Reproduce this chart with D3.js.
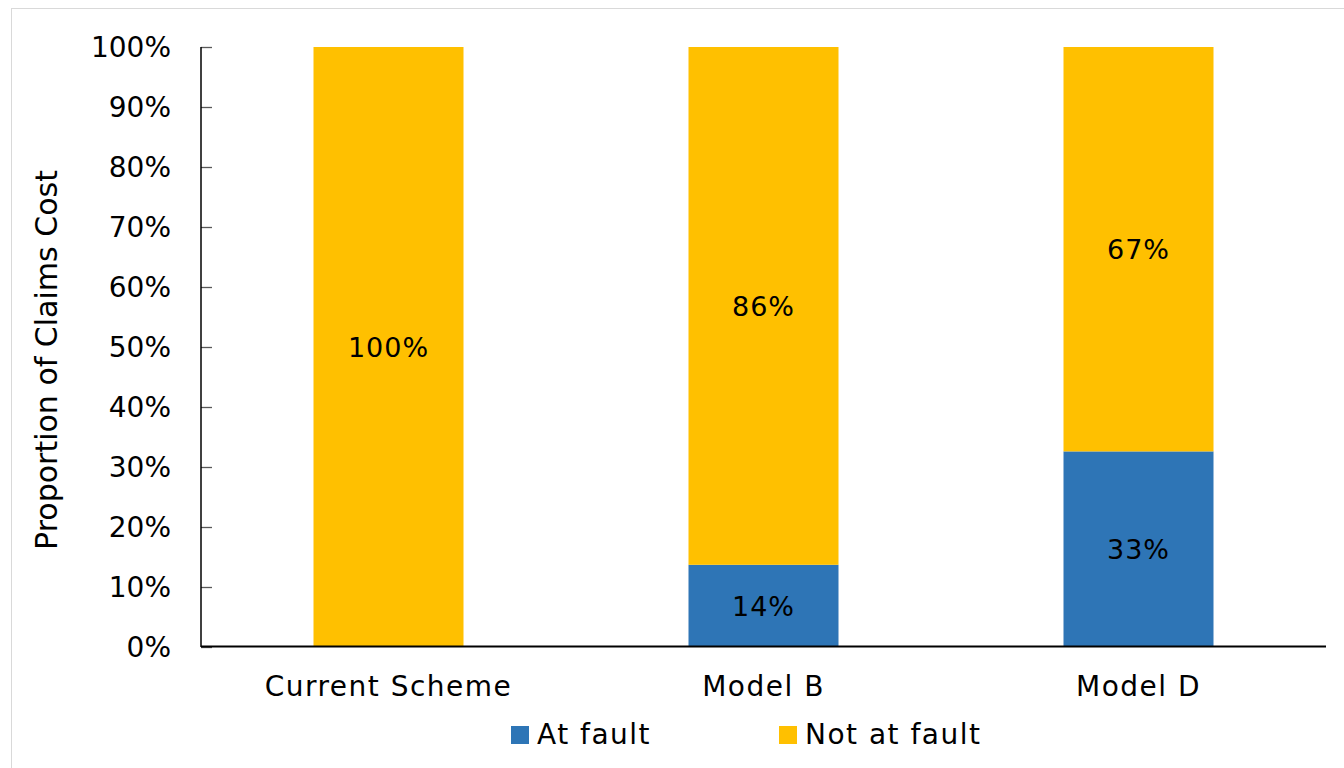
<!DOCTYPE html>
<html>
<head>
<meta charset="utf-8">
<script src="https://cdn.jsdelivr.net/npm/d3@7"></script>
<style>
  html, body { margin: 0; padding: 0; background: #fff; }
  svg { display: block; font-family: "DejaVu Sans", sans-serif; }
</style>
</head>
<body>
<div class="displayArea"></div>
<script>
// data
const categories = ["Current Scheme", "Model B", "Model D"];
const atFault = [0, 0.137, 0.326];
const notAtFault = [1, 0.863, 0.674];
const seriesNames = ["At fault", "Not at fault"];
const seriesColours = ["#2E75B6", "#FFC000"];
const yTicks = [0, 0.1, 0.2, 0.3, 0.4, 0.5, 0.6, 0.7, 0.8, 0.9, 1];

const width = 1344, height = 768;
const plotLeft = 201, plotRight = 1326, plotTop = 47, plotBottom = 647;

const svg = d3.select(".displayArea")
    .append("svg")
    .attr("width", width)
    .attr("height", height);

// chart frame
svg.append("rect")
    .attr("x", 11.5).attr("y", 8.5)
    .attr("width", 1400).attr("height", 800)
    .attr("fill", "#fff")
    .attr("stroke", "#d9d9d9")
    .attr("stroke-width", 1);

const table = categories.map((c, i) => ({cat: c, "At fault": atFault[i], "Not at fault": notAtFault[i]}));
const stacked = d3.stack().keys(seriesNames)(table);

const xScale = d3.scaleBand()
    .domain(categories)
    .range([plotLeft, plotRight])
    .paddingInner(0.6)
    .paddingOuter(0.3);

const yScale = d3.scaleLinear()
    .domain([0, 1])
    .range([plotBottom, plotTop]);

// bars
const layers = svg.selectAll("g.layer")
    .data(stacked)
    .enter()
    .append("g")
    .attr("class", "layer")
    .attr("fill", (d, i) => seriesColours[i]);

layers.selectAll("rect")
    .data(d => d)
    .enter()
    .append("rect")
    .attr("x", d => xScale(d.data.cat))
    .attr("width", xScale.bandwidth())
    .attr("y", d => yScale(d[1]))
    .attr("height", d => yScale(d[0]) - yScale(d[1]));

// data labels
layers.selectAll("text")
    .data(d => d.filter(v => v[1] - v[0] > 0))
    .enter()
    .append("text")
    .attr("x", d => xScale(d.data.cat) + xScale.bandwidth() / 2)
    .attr("y", d => yScale((d[0] + d[1]) / 2))
    .attr("dy", "0.36em")
    .attr("text-anchor", "middle")
    .attr("fill", "#000")
    .style("font-size", "27px")
    .style("letter-spacing", "1px")
    .text(d => d3.format(".0%")(d[1] - d[0]));

// y axis
const yAxis = svg.append("g")
    .attr("transform", `translate(${plotLeft},0)`)
    .call(d3.axisRight(yScale).tickValues(yTicks).tickSize(11).tickFormat(""));
yAxis.select(".domain").remove();
yAxis.selectAll(".tick line").attr("stroke", "#595959").attr("stroke-width", 1.3);

svg.append("line")
    .attr("x1", plotLeft).attr("x2", plotLeft)
    .attr("y1", plotTop).attr("y2", plotBottom)
    .attr("stroke", "#000").attr("stroke-width", 1.5);

svg.append("g")
    .selectAll("text")
    .data(yTicks)
    .enter()
    .append("text")
    .attr("x", 171)
    .attr("y", d => yScale(d))
    .attr("dy", "0.36em")
    .attr("text-anchor", "end")
    .attr("fill", "#000")
    .style("font-size", "28px")
    .text(d => d3.format(".0%")(d));

// x axis
const xAxis = svg.append("g")
    .attr("transform", `translate(0,${plotBottom - 0.5})`)
    .call(d3.axisBottom(xScale).tickSize(0).tickPadding(30));
xAxis.select(".domain").attr("stroke", "#000").attr("stroke-width", 2)
    .attr("d", `M${plotLeft},0H${plotRight}`);
xAxis.selectAll(".tick text")
    .attr("fill", "#000")
    .style("font-family", "DejaVu Sans, sans-serif")
    .style("font-size", "28px")
    .style("letter-spacing", "1.5px");

// y axis title
svg.append("text")
    .attr("transform", `translate(57,360) rotate(-90)`)
    .attr("text-anchor", "middle")
    .attr("fill", "#000")
    .style("font-size", "30px")
    .text("Proportion of Claims Cost");

// legend
const legendX = [511, 779];
const legend = svg.append("g");
seriesNames.forEach((name, i) => {
    legend.append("rect")
        .attr("x", legendX[i]).attr("y", 726)
        .attr("width", 18).attr("height", 18)
        .attr("fill", seriesColours[i]);
    legend.append("text")
        .attr("x", legendX[i] + 26).attr("y", 744)
        .attr("fill", "#000")
        .style("font-size", "28px")
        .style("letter-spacing", "1.5px")
        .text(name);
});
</script>
</body>
</html>
